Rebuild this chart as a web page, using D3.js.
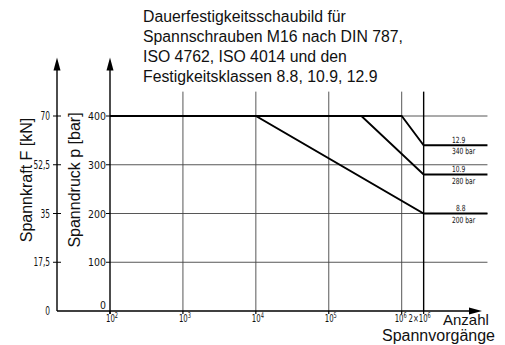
<!DOCTYPE html>
<html>
<head>
<meta charset="utf-8">
<script src="https://cdn.jsdelivr.net/npm/d3@7"></script>
<style>
  html, body { margin: 0; padding: 0; background: #fff; }
  svg { display: block; }
</style>
</head>
<body>
<svg id="chart" width="505" height="345"></svg>
<script>
// ---- data ----
const titleLines = [
  "Dauerfestigkeitsschaubild für",
  "Spannschrauben M16 nach DIN 787,",
  "ISO 4762, ISO 4014 und den",
  "Festigkeitsklassen 8.8, 10.9, 12.9"
];
const cycleTicks = [1e2, 1e3, 1e4, 1e5, 1e6, 2e6];
const cycleTickBase = ["10", "10", "10", "10", "10", "2×10"];
const cycleTickExp = ["2", "3", "4", "5", "6", "6"];
const pressureTicks = [0, 100, 200, 300, 400];
const pressureTickLabels = ["0", "100", "200", "300", "400"];
const forceTicks = [0, 17.5, 35, 52.5, 70];
const forceTickLabels = ["0", "17,5", "35", "52,5", "70"];
const cycleEnd = 1.5e7;      // right end of the curves / grid
const gridTop = 450;         // top of vertical grid lines (bar)
const axisTop = 520;         // arrow tip of the y axes (bar)

const classes = ["12.9", "10.9", "8.8"];
const classLabels = ["340 bar", "280 bar", "200 bar"];
const classCycles = [
  [1e2, 1e6, 2e6, cycleEnd],
  [1e2, 2.8e5, 2e6, cycleEnd],
  [1e2, 1e4, 2e6, cycleEnd]
];
const classPressure = [
  [400, 400, 340, 340],
  [400, 400, 280, 280],
  [400, 400, 200, 200]
];

// ---- scales ----
const svg = d3.select("#chart");
const x = d3.scaleLog().domain([1e2, 1e6]).range([110, 401.7]);
const y = d3.scaleLinear().domain([0, 400]).range([311, 116]);
const yF = d3.scaleLinear().domain([0, 70]).range([311, 116]);

const leftAxisX = 57;
const xAxisEnd = 482;

// ---- title ----
svg.append("g").selectAll("text").data(titleLines).join("text")
  .attr("x", 143).attr("y", (d, i) => 21.7 + i * 20)
  .attr("font-family", "Liberation Sans, Arial, sans-serif")
  .attr("font-size", 15.8).attr("fill", "#111").text(d => d);

// ---- grid ----
const grid = svg.append("g").attr("stroke", "#444").attr("stroke-width", 0.9);
grid.selectAll("line.h").data(pressureTicks.filter(d => d > 0)).join("line")
  .attr("x1", x(1e2)).attr("x2", x(cycleEnd))
  .attr("y1", d => y(d)).attr("y2", d => y(d));
grid.selectAll("line.v").data(cycleTicks.slice(1)).join("line")
  .attr("x1", d => x(d)).attr("x2", d => x(d))
  .attr("y1", y(0)).attr("y2", y(gridTop))
  .attr("stroke-width", d => d === 2e6 ? 1.4 : 0.9)
  .attr("stroke", d => d === 2e6 ? "#000" : "#444");

// ---- axes ----
const axes = svg.append("g").attr("stroke", "#000").attr("stroke-width", 1.4);
axes.append("line").attr("x1", leftAxisX).attr("x2", xAxisEnd - 8)
  .attr("y1", y(0)).attr("y2", y(0));
axes.append("line").attr("x1", leftAxisX).attr("x2", leftAxisX)
  .attr("y1", y(0)).attr("y2", y(axisTop) + 8);
axes.append("line").attr("x1", x(1e2)).attr("x2", x(1e2))
  .attr("y1", y(0) + 3).attr("y2", y(axisTop) + 8);

// arrowheads
const arrows = svg.append("g").attr("fill", "#000");
[leftAxisX, x(1e2)].forEach(ax => {
  const t = y(axisTop);
  arrows.append("path").attr("d", `M${ax},${t} L${ax - 3.5},${t + 13} L${ax + 3.5},${t + 13} Z`);
});
arrows.append("path").attr("d",
  `M${xAxisEnd},${y(0)} L${xAxisEnd - 13},${y(0) - 3.5} L${xAxisEnd - 13},${y(0) + 3.5} Z`);

// ticks
axes.selectAll("line.ft").data(forceTicks.filter(d => d > 0)).join("line")
  .attr("x1", leftAxisX - 4).attr("x2", leftAxisX + 4)
  .attr("y1", d => yF(d)).attr("y2", d => yF(d)).attr("stroke-width", 1);
axes.selectAll("line.pt").data(pressureTicks.filter(d => d > 0)).join("line")
  .attr("x1", x(1e2) - 4).attr("x2", x(1e2))
  .attr("y1", d => y(d)).attr("y2", d => y(d)).attr("stroke-width", 1);
axes.selectAll("line.ct").data(cycleTicks).join("line")
  .attr("x1", d => x(d)).attr("x2", d => x(d))
  .attr("y1", y(0)).attr("y2", y(0) + 3).attr("stroke-width", 1.2);

// tick labels (condensed technical lettering)
const tickFont = "DejaVu Sans Condensed, DejaVu Sans, sans-serif";
svg.append("g").selectAll("text").data(forceTicks).join("text")
  .attr("transform", d => `translate(50,${yF(d) + 4}) scale(0.72,1)`)
  .attr("text-anchor", "end").attr("font-family", tickFont).attr("font-size", 11.5)
  .attr("fill", "#111").text((d, i) => forceTickLabels[i]);
svg.append("g").selectAll("text").data(pressureTicks).join("text")
  .attr("transform", d => `translate(106,${y(d) + (d === 0 ? -2 : 4)}) scale(0.95,1)`)
  .attr("text-anchor", "end").attr("font-family", tickFont).attr("font-size", 11)
  .attr("fill", "#111").text((d, i) => pressureTickLabels[i]);

const ctl = svg.append("g").selectAll("text").data(cycleTicks).join("text")
  .attr("transform", (d, i) => `translate(${x(d) + (i === 5 ? -4 : (i === 4 ? -1 : 2))},321.5) scale(0.7,1)`)
  .attr("text-anchor", "middle").attr("font-family", tickFont).attr("font-size", 11)
  .attr("fill", "#111");
ctl.append("tspan").text((d, i) => cycleTickBase[i]);
ctl.append("tspan").attr("dy", -3.5).attr("font-size", 8).text((d, i) => cycleTickExp[i]);

// axis titles
const titleFont = "Liberation Sans, Arial, sans-serif";
svg.append("text").attr("transform", "translate(31.5,180) rotate(-90)")
  .attr("text-anchor", "middle").attr("font-family", titleFont).attr("font-size", 16)
  .attr("fill", "#111").text("Spannkraft F [kN]");
svg.append("text").attr("transform", "translate(80,180) rotate(-90)")
  .attr("text-anchor", "middle").attr("font-family", titleFont).attr("font-size", 16)
  .attr("fill", "#111").text("Spanndruck p [bar]");
svg.append("text").attr("x", 443).attr("y", 325)
  .attr("font-family", titleFont).attr("font-size", 15).attr("fill", "#111").text("Anzahl");
svg.append("text").attr("x", 382).attr("y", 341)
  .attr("font-family", titleFont).attr("font-size", 16).attr("fill", "#111").text("Spannvorgänge");

// ---- curves ----
const line = d3.line().x(d => x(d[0])).y(d => y(d[1]));
svg.append("g").selectAll("path").data(classes).join("path")
  .attr("d", (c, i) => line(classCycles[i].map((v, j) => [v, classPressure[i][j]])))
  .attr("fill", "none").attr("stroke", "#000").attr("stroke-width", 1.8)
  .attr("stroke-linejoin", "miter");

// curve labels
const lbl = svg.append("g").attr("font-family", tickFont).attr("font-size", 8.5).attr("fill", "#111");
lbl.selectAll("text.c").data(classes).join("text")
  .attr("transform", (d, i) => `translate(${i === 2 ? 456 : 452},${y(classPressure[i][3]) - 2.5}) scale(0.78,1)`)
  .text(d => d);
lbl.selectAll("text.b").data(classLabels).join("text")
  .attr("transform", (d, i) => `translate(452,${y(classPressure[i][3]) + 9}) scale(0.78,1)`)
  .text(d => d);
</script>
</body>
</html>
